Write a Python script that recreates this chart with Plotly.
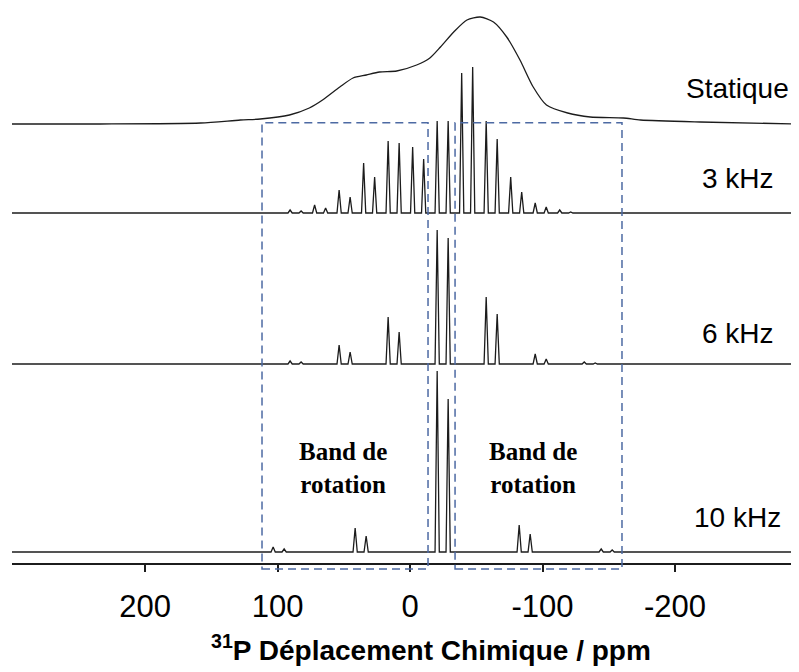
import plotly.graph_objects as go

# --- data ----------------------------------------------------------------

# x axis ticks (ppm, reversed as usual for NMR)
tick_vals = [200, 100, 0, -100, -200]
tick_text = ["200", "100", "0", "-100", "-200"]

# static spectrum: ppm / intensity
static_ppm = [300.4, 234, 158, 128, 113, 91, 76, 66, 53, 43, 33, 23, 10,
              -5, -15, -23, -33, -43, -53, -63, -73, -83, -93, -103,
              -119, -136, -161, -174, -219, -293.6]
static_int = [0, 0, 1, 4, 5, 9, 16, 24, 37, 46, 49, 52, 53,
              59, 66, 77, 92, 104, 107, 102, 87, 64, 37, 19,
              11, 7, 6, 4, 2, 0]

# MAS 3 kHz: peak positions (ppm) and heights
mas3_ppm = [90.5, 82.2, 72.0, 63.7, 53.5, 45.2, 35.0, 26.7, 16.5, 8.2,
            -2.0, -10.3, -20.5, -28.8, -39.0, -47.3, -57.5, -65.8,
            -76.0, -84.3, -94.5, -102.8, -113.0, -121.3]
mas3_int = [3, 2, 8, 5, 23, 16, 50, 36, 72, 70,
            66, 54, 92, 92, 140, 146, 92, 74,
            36, 21, 10, 6, 3, 1]

# MAS 6 kHz
mas6_ppm = [90.5, 82.2, 53.5, 45.2, 16.5, 8.2, -20.5, -28.8,
            -57.5, -65.8, -94.5, -102.8, -131.5, -139.8]
mas6_int = [3, 2, 19, 12, 47, 32, 134, 126,
            67, 50, 10, 5, 2, 1]

# MAS 10 kHz
mas10_ppm = [103.3, 95.0, 41.4, 33.1, -20.5, -28.8, -82.4, -90.7, -144.3, -152.6]
mas10_int = [5, 3, 24, 16, 181, 153, 27, 18, 3, 2]

labels = ["Statique", "3 kHz", "6 kHz", "10 kHz"]

# --- helpers ------------------------------------------------------------

X_LEFT, X_RIGHT = 300.4, -293.6
LINE = dict(color="#1c1c1c", width=1.3)


def stick_trace(ppm, heights, offset, hw=1.6):
    """Turn a peak list into a spectrum line (narrow peaks on a flat baseline)."""
    pairs = sorted(zip(ppm, heights), reverse=True)
    xs, ys = [X_LEFT], [offset]
    for p, h in pairs:
        xs += [p + hw, p, p - hw]
        ys += [offset, offset + h, offset]
    xs.append(X_RIGHT)
    ys.append(offset)
    return go.Scatter(x=xs, y=ys, mode="lines", line=LINE,
                      hoverinfo="skip", showlegend=False)


fig = go.Figure()

# static spectrum on top
fig.add_trace(go.Scatter(
    x=static_ppm, y=[439 + v for v in static_int],
    mode="lines", line=dict(color="#1c1c1c", width=1.3, shape="spline", smoothing=0.7),
    hoverinfo="skip", showlegend=False))

fig.add_trace(stick_trace(mas3_ppm, mas3_int, 350))
fig.add_trace(stick_trace(mas6_ppm, mas6_int, 199))
fig.add_trace(stick_trace(mas10_ppm, mas10_int, 11))

# dashed boxes marking the spinning sidebands
box_col = "#4d6aa3"
for x0, x1 in [(111.7, -13.6), (-34.0, -160.0)]:
    fig.add_shape(type="rect", xref="x", yref="paper",
                  x0=x0, x1=x1, y0=-0.011, y1=0.796,
                  line=dict(color=box_col, width=1.5, dash="8px,5px"),
                  fillcolor="rgba(0,0,0,0)")

# spectrum labels on the right
label_y = [475, 385, 230, 46]
for txt, y in zip(labels, label_y):
    fig.add_annotation(x=-247.5, y=y, text=txt, showarrow=False,
                       xanchor="center", yanchor="middle",
                       font=dict(family="Liberation Sans, Arial", size=28, color="black"))

for xc in [50.9, -92.5]:
    fig.add_annotation(x=xc, y=95, text="<b>Band de<br>rotation</b>", showarrow=False,
                       xanchor="center", yanchor="middle",
                       font=dict(family="Liberation Serif, Times New Roman", size=25, color="black"))

# axis title
fig.add_annotation(xref="paper", yref="paper", x=0.532, y=-0.154,
                   xanchor="center", yanchor="middle",
                   text="<b><sup>31</sup>P Déplacement Chimique / ppm</b>",
                   showarrow=False,
                   font=dict(family="Liberation Sans, Arial", size=28, color="black"))

# page body adds an 8px margin, so the figure is trimmed to compensate
fig.update_layout(
    width=791, height=664,
    margin=dict(l=4, r=0, t=2, b=109),
    plot_bgcolor="white", paper_bgcolor="white",
    xaxis=dict(range=[X_LEFT, X_RIGHT], showgrid=False, zeroline=False,
               showline=True, linecolor="#1c1c1c", linewidth=1.5,
               ticks="outside", ticklen=7, tickwidth=1.5, tickcolor="#1c1c1c",
               tickvals=tick_vals, ticktext=tick_text, ticklabelstandoff=8,
               tickfont=dict(family="Liberation Sans, Arial", size=31, color="black")),
    yaxis=dict(range=[0, 553], visible=False, showgrid=False, zeroline=False),
)

fig.write_html("out.html")
